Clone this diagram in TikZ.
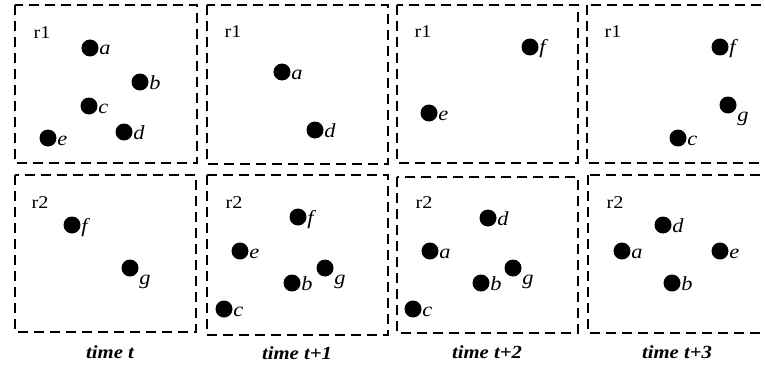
\documentclass[tikz,border=0pt]{standalone}
\usepackage{fontspec}
\setmainfont{Liberation Serif}
\newfontfamily\stretched{Liberation Serif}[FakeStretch=1.12]
\tikzset{
  frame/.style={draw, line width=2pt, dash pattern=on 10pt off 6pt},
  dot/.style={circle, fill=black, inner sep=0pt, minimum size=17pt},
  lab/.style={font=\stretched\fontsize{20}{20}\selectfont\itshape, inner sep=0pt, anchor=base west},
  reg/.style={font=\stretched\fontsize{18}{18}\selectfont, inner sep=0pt},
  captext/.style={font=\stretched\fontsize{18.5}{18.5}\selectfont\bfseries\itshape, inner sep=0pt}
}
\newcommand\mydot[5][-7pt]{%
  \node[dot] (#2) at (#3,#4) {};
  \node[lab] (#2l) at ([xshift=0.5pt,yshift=#1]#2.east) {#5};}
\begin{document}
\begin{tikzpicture}[x=1pt,y=-1pt]
\useasboundingbox (0,0) rectangle (765,369);
\clip (0,0) rectangle (765,369);
% frames, top row
\draw[frame] (15,5) rectangle (197,163);
\draw[frame] (207,5) rectangle (388,164);
\draw[frame] (397,5) rectangle (578,163);
\draw[frame] (587,5) rectangle (780,163);
% frames, bottom row
\draw[frame] (15,175) rectangle (196,332);
\draw[frame] (207,175) rectangle (388,335);
\draw[frame] (397,177) rectangle (578,333);
\draw[frame] (588,175) rectangle (780,333);
% region labels
\node[reg] (r1a) at (42,33) {r1};
\node[reg] (r1b) at (233,32) {r1};
\node[reg] (r1c) at (423,32) {r1};
\node[reg] (r1d) at (613,32) {r1};
\node[reg] (r2a) at (40,203) {r2};
\node[reg] (r2b) at (234,203) {r2};
\node[reg] (r2c) at (424,203) {r2};
\node[reg] (r2d) at (615,203) {r2};
% box 1 top
\mydot{a1}{90}{48}{a}
\mydot{b1}{140}{82}{b}
\mydot{c1}{89}{106}{c}
\mydot{d1}{124}{132}{d}
\mydot{e1}{48}{138}{e}
% box 2 top
\mydot{a2}{282}{72}{a}
\mydot{d2}{315}{130}{d}
% box 3 top
\mydot{f3}{530}{47}{f}
\mydot{e3}{429}{113}{e}
% box 4 top
\mydot{f4}{720}{47}{f}
\mydot[-16pt]{g4}{728}{105}{g}
\mydot{c4}{678}{138}{c}
% box 1 bottom
\mydot{f5}{72}{225}{f}
\mydot[-16pt]{g5}{130}{268}{g}
% box 2 bottom
\mydot{f6}{298}{217}{f}
\mydot{e6}{240}{251}{e}
\mydot[-16pt]{g6}{325}{268}{g}
\mydot{b6}{292}{283}{b}
\mydot{c6}{224}{309}{c}
% box 3 bottom
\mydot{d7}{488}{218}{d}
\mydot{a7}{430}{251}{a}
\mydot[-16pt]{g7}{513}{268}{g}
\mydot{b7}{481}{283}{b}
\mydot{c7}{413}{309}{c}
% box 4 bottom
\mydot{d8}{663}{225}{d}
\mydot{a8}{622}{251}{a}
\mydot{e8}{720}{251}{e}
\mydot{b8}{672}{283}{b}
% captions
\node[captext] (t0) at (110,352) {time t};
\node[captext] (t1) at (297,353) {time t+1};
\node[captext] (t2) at (487,352) {time t+2};
\node[captext] (t3) at (677,352) {time t+3};
\end{tikzpicture}
\end{document}
